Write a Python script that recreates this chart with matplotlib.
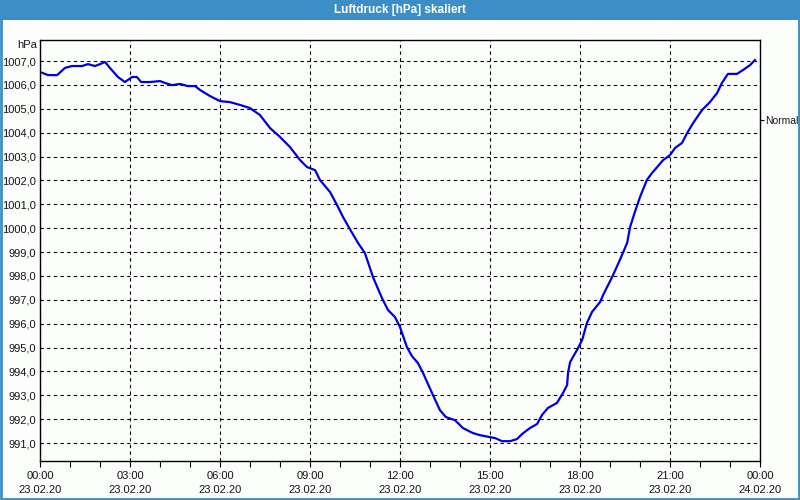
import matplotlib
matplotlib.use('Agg')
import matplotlib.pyplot as plt
from matplotlib.patches import Rectangle

# hours since 23.02.20 00:00 and pressure in hPa
hours = [0.00, 0.27, 0.57, 0.83, 1.07, 1.40, 1.60, 1.83, 2.00, 2.17, 2.33, 2.60, 2.83,
         3.07, 3.23, 3.37, 3.67, 4.00, 4.17, 4.40, 4.67, 4.93, 5.17, 5.33, 5.67,
         6.00, 6.33, 6.67, 7.00, 7.33, 7.67, 8.00, 8.33, 8.67, 8.90, 9.17, 9.33,
         9.67, 9.90, 10.10, 10.33, 10.60, 10.83, 11.10, 11.40, 11.60, 11.83,
         12.00, 12.23, 12.40, 12.60, 12.77, 13.07, 13.33, 13.53, 13.83, 14.10,
         14.43, 14.67, 15.00, 15.17, 15.40, 15.67, 15.90, 16.07, 16.33, 16.57,
         16.73, 16.93, 17.23, 17.43, 17.57, 17.60, 17.67, 17.90, 18.07, 18.23,
         18.40, 18.67, 18.77, 19.07, 19.33, 19.57, 19.67, 19.83, 20.00, 20.23,
         20.40, 20.60, 20.77, 21.00, 21.17, 21.40, 21.57, 21.77, 22.07, 22.33,
         22.57, 22.73, 22.93, 23.23, 23.43, 23.67, 23.83]
pressure = [1006.54, 1006.41, 1006.41, 1006.71, 1006.79, 1006.79, 1006.87, 1006.79,
            1006.87, 1006.96, 1006.71, 1006.33, 1006.12, 1006.33, 1006.33, 1006.12,
            1006.12, 1006.16, 1006.08, 1005.99, 1006.04, 1005.95, 1005.95, 1005.79,
            1005.53, 1005.32, 1005.28, 1005.16, 1005.03, 1004.74, 1004.19, 1003.82,
            1003.40, 1002.85, 1002.56, 1002.43, 1002.02, 1001.51, 1000.97, 1000.47,
            999.96, 999.38, 998.96, 997.95, 997.07, 996.57, 996.28, 995.86, 995.02,
            994.64, 994.35, 993.93, 993.09, 992.38, 992.09, 991.96, 991.63, 991.42,
            991.33, 991.25, 991.21, 991.08, 991.08, 991.17, 991.38, 991.63, 991.80,
            992.17, 992.47, 992.68, 993.09, 993.43, 993.93, 994.39, 994.90, 995.31,
            996.03, 996.49, 996.91, 997.20, 997.95, 998.67, 999.38, 1000.05, 1000.68,
            1001.30, 1002.02, 1002.31, 1002.60, 1002.85, 1003.06, 1003.36, 1003.57,
            1003.98, 1004.40, 1004.95, 1005.28, 1005.66, 1006.08, 1006.46, 1006.46,
            1006.62, 1006.83, 1007.04]

x_ticks = [0, 3, 6, 9, 12, 15, 18, 21, 24]
x_labels = ['00:00\n23.02.20', '03:00\n23.02.20', '06:00\n23.02.20', '09:00\n23.02.20',
            '12:00\n23.02.20', '15:00\n23.02.20', '18:00\n23.02.20', '21:00\n23.02.20',
            '00:00\n24.02.20']
y_ticks = list(range(991, 1008))
y_labels = ['%d,0' % v for v in y_ticks]
normal_level = 1004.53

plt.rcParams['font.family'] = 'Liberation Sans'
txt = '#141414'
fig = plt.figure(figsize=(8, 5), dpi=100, facecolor='#fcfefc')

# window title bar + frame
frame_blue = '#3c8fc6'
fig.patches.append(Rectangle((0, 0.96), 1, 0.04, transform=fig.transFigure,
                             facecolor=frame_blue, edgecolor='none', zorder=0))
fig.patches.append(Rectangle((0.001, 0.002), 0.998, 0.998, transform=fig.transFigure,
                             facecolor='none', edgecolor=frame_blue, linewidth=2, zorder=0))
fig.text(0.5, 0.979, 'Luftdruck [hPa] skaliert', color='white', fontsize=8.5,
         fontweight='bold', ha='center', va='center')

ax = fig.add_axes([0.05, 0.078, 0.90, 0.842])
ax.set_facecolor('#fcfefc')
ax.plot(hours, pressure, color='#0000e0', linewidth=1.6)

ax.set_xlim(0, 24)
ax.set_ylim(990.25, 1007.88)
ax.set_xticks(x_ticks)
ax.set_xticklabels(x_labels, fontsize=8, color=txt, linespacing=1.55)
ax.set_xticks(range(25), minor=True)
ax.set_yticks(y_ticks)
ax.set_yticklabels(y_labels, fontsize=8, color=txt)
ax.tick_params(axis='y', length=0, pad=3)
ax.tick_params(axis='x', which='both', length=4, width=0.8, direction='out', pad=3)
ax.grid(True, which='major', color='black', linestyle=(0, (3, 3)), linewidth=0.8)
for s in ax.spines.values():
    s.set_linewidth(1)
    s.set_color('black')

ax.text(-0.004, 1007.65, 'hPa', fontsize=8, color=txt, ha='right', va='center',
        transform=ax.get_yaxis_transform())

ax2 = ax.twinx()
ax2.set_ylim(ax.get_ylim())
ax2.set_yticks([normal_level])
ax2.set_yticklabels(['Normal'], fontsize=7.5, color=txt)
ax2.tick_params(axis='y', length=3, width=0.8, pad=1)
for s in ax2.spines.values():
    s.set_visible(False)

fig.savefig('out.png', dpi=100, facecolor=fig.get_facecolor())
